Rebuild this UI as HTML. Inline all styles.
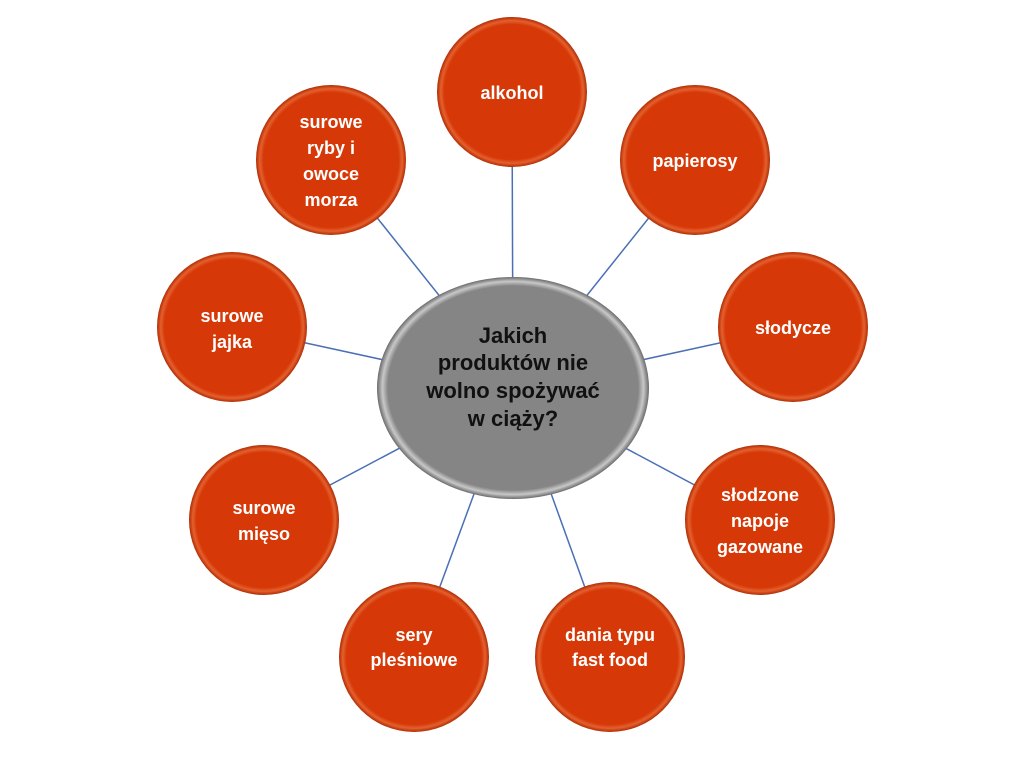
<!DOCTYPE html>
<html><head><meta charset="utf-8"><style>
html,body{margin:0;padding:0;background:#fff;}
svg{display:block;}
text{font-family:"Liberation Sans",sans-serif;font-weight:bold;}
</style></head><body>
<svg width="1024" height="767" viewBox="0 0 1024 767">
<defs>
<radialGradient id="og" cx="50%" cy="50%" r="50%">
<stop offset="0.9" stop-color="#d63807"/>
<stop offset="0.95" stop-color="#e4602e"/>
<stop offset="1" stop-color="#b02c04"/>
</radialGradient>
<radialGradient id="gg" cx="50%" cy="50%" r="50%">
<stop offset="0.92" stop-color="#858585"/>
<stop offset="0.96" stop-color="#c8c8c8"/>
<stop offset="1" stop-color="#6a6a6a"/>
</radialGradient>
</defs>
<g stroke="#4a6fb5" stroke-width="1.5">
<line x1="513" y1="388" x2="512" y2="92"/>
<line x1="513" y1="388" x2="695" y2="160"/>
<line x1="513" y1="388" x2="793" y2="327"/>
<line x1="513" y1="388" x2="760" y2="520"/>
<line x1="513" y1="388" x2="610" y2="657"/>
<line x1="513" y1="388" x2="414" y2="657"/>
<line x1="513" y1="388" x2="264" y2="520"/>
<line x1="513" y1="388" x2="232" y2="327"/>
<line x1="513" y1="388" x2="331" y2="160"/>
</g>
<ellipse cx="513" cy="388" rx="136" ry="111" fill="url(#gg)"/>
<g fill="url(#og)">
<circle cx="512" cy="92" r="75"/>
<circle cx="695" cy="160" r="75"/>
<circle cx="793" cy="327" r="75"/>
<circle cx="760" cy="520" r="75"/>
<circle cx="610" cy="657" r="75"/>
<circle cx="414" cy="657" r="75"/>
<circle cx="264" cy="520" r="75"/>
<circle cx="232" cy="327" r="75"/>
<circle cx="331" cy="160" r="75"/>
</g>
<g fill="#111" font-size="22" text-anchor="middle">
<text x="513" y="343">Jakich</text>
<text x="513" y="370">produktów nie</text>
<text x="513" y="398">wolno spożywać</text>
<text x="513" y="426">w ciąży?</text>
</g>
<g fill="#fff" font-size="18" text-anchor="middle">
<text x="512" y="99">alkohol</text>
<text x="695" y="167">papierosy</text>
<text x="793" y="334">słodycze</text>
<text x="760" y="501">słodzone</text>
<text x="760" y="527">napoje</text>
<text x="760" y="553">gazowane</text>
<text x="610" y="641">dania typu</text>
<text x="610" y="666">fast food</text>
<text x="414" y="641">sery</text>
<text x="414" y="666">pleśniowe</text>
<text x="264" y="514">surowe</text>
<text x="264" y="540">mięso</text>
<text x="232" y="322">surowe</text>
<text x="232" y="348">jajka</text>
<text x="331" y="128">surowe</text>
<text x="331" y="154">ryby i</text>
<text x="331" y="180">owoce</text>
<text x="331" y="206">morza</text>
</g>
</svg>
</body></html>
